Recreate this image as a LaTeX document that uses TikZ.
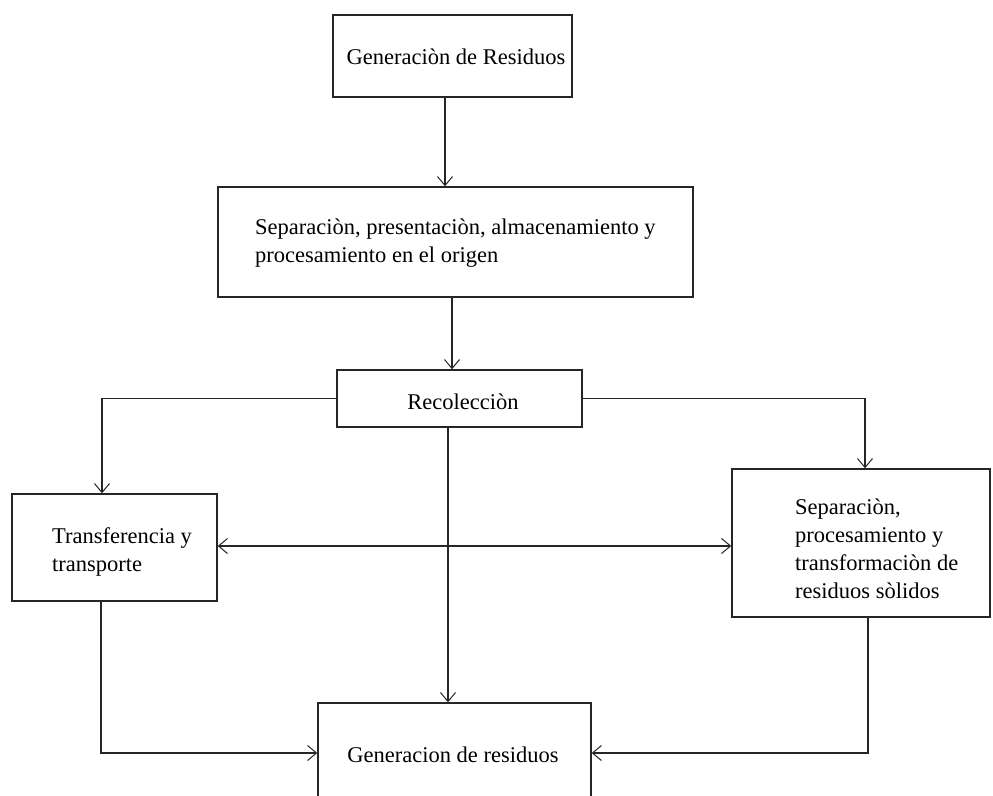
\documentclass[tikz,border=0pt]{standalone}
\usepackage{fontspec}
\setmainfont{Liberation Serif}
\usetikzlibrary{arrows.meta}
\begin{document}
\begin{tikzpicture}[x=1pt,y=-1pt,
  box/.style={draw=black!85,line width=1.4pt,rectangle,inner sep=0pt},
  txt/.style={font=\fontsize{22.5}{28}\selectfont,inner sep=0pt,align=left,text=black},
  conn/.style={draw=black!85,line width=1.2pt},
  tip/.style={-{Straight Barb[length=9pt,width=15pt,line width=1pt]}},
  dtip/.style={{Straight Barb[length=9pt,width=15pt,line width=1pt]}-{Straight Barb[length=9pt,width=15pt,line width=1pt]}}]
\clip (0,0) rectangle (993,795);
\fill[white] (0,0) rectangle (993,795);
% boxes
\node[box,minimum width=239pt,minimum height=82pt] (B1) at (452.5,56) {};
\node[box,minimum width=475pt,minimum height=110pt] (B2) at (455.5,242) {};
\node[box,minimum width=245pt,minimum height=57pt] (B3) at (459.5,398.5) {};
\node[box,minimum width=205pt,minimum height=107pt] (B4) at (114.5,547.5) {};
\node[box,minimum width=258pt,minimum height=148pt] (B5) at (861,543) {};
\node[box,minimum width=273pt,minimum height=100pt] (B6) at (454.5,753) {};
% texts
\node[txt] (T1) at (456,57) {Generaciòn de Residuos};
\node[txt,anchor=west] (T2) at (255,243) {Separaciòn, presentaciòn, almacenamiento y\\procesamiento en el origen};
\node[txt] (T3) at (463,402) {Recolecciòn};
\node[txt,anchor=west] (T4) at (52,552) {Transferencia y\\transporte};
\node[txt,anchor=west] (T5) at (795,549) {Separaciòn,\\procesamiento y\\transformaciòn de\\residuos sòlidos};
\node[txt] (T6) at (453,755) {Generacion de residuos};
% connectors
\draw[conn,tip] ([xshift=-7.5pt]B1.south) -- ([xshift=-10.5pt]B2.north);
\draw[conn,tip] ([xshift=-3.5pt]B2.south) -- ([xshift=-7.5pt]B3.north);
\draw[conn,tip] (B3.west) -| ([xshift=-12.5pt]B4.north);
\draw[conn,tip] (B3.east) -| ([xshift=4pt]B5.north);
\draw[conn,tip] ([xshift=-11.5pt]B3.south) -- ([xshift=-6.5pt]B6.north);
\draw[conn,dtip] ([yshift=1.5pt]B4.east) -- ([yshift=1.5pt]B4.east -| B5.west);
\draw[conn,tip] ([xshift=-13.5pt]B4.south) |- (B6.west);
\draw[conn,tip] ([xshift=7pt]B5.south) |- (B6.east);
\end{tikzpicture}
\end{document}
